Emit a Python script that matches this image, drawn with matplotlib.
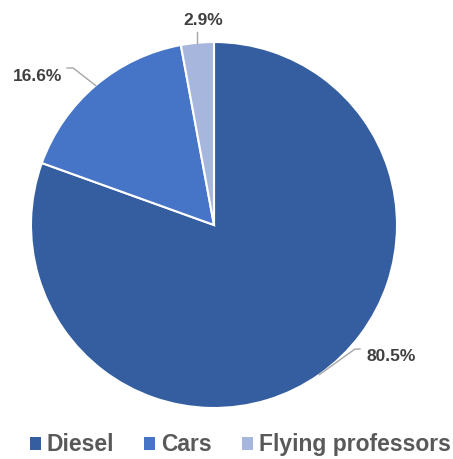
import numpy as np
import matplotlib
matplotlib.use("Agg")
import matplotlib.pyplot as plt
from matplotlib.patches import Patch

plt.rcParams['font.family'] = ['Liberation Sans', 'DejaVu Sans']

categories = ['Diesel', 'Cars', 'Flying professors']
shares = [80.5, 16.6, 2.9]
colors = ['#345ea0', '#4674c6', '#a7b6dc']

# label placement: (elbow x, elbow y, line end x, text x, text y, ha)
label_layout = [
    (0.770, -0.678, 0.798, 0.831, -0.721, 'left'),
    (-0.770, 0.858, -0.803, -0.831, 0.814, 'right'),
    (None, 1.055, None, -0.057, 1.115, 'center'),
]

fig = plt.figure(figsize=(4.53, 4.59), dpi=100)
cx, cy, r = 214, 225, 183
W, H = 453, 459
ax = fig.add_axes([(cx - r) / W, (H - cy - r) / H, 2 * r / W, 2 * r / H])

wedges, _ = ax.pie(shares, colors=colors, startangle=90, counterclock=False,
                   radius=1, wedgeprops=dict(edgecolor='white', linewidth=1.5))
ax.set_xlim(-1, 1)
ax.set_ylim(-1, 1)
ax.set_aspect('auto')
ax.axis('off')

for w, val, lay in zip(wedges, shares, label_layout):
    mid = np.deg2rad((w.theta1 + w.theta2) / 2)
    x0, y0 = np.cos(mid), np.sin(mid)
    ex, ey, lx, tx, ty, ha = lay
    if ex is None:
        xs, ys = [x0, x0], [y0, ey]
    else:
        xs, ys = [x0, ex, lx], [y0, ey, ey]
    ax.plot(xs, ys, color='#a6a6a6', lw=1, clip_on=False)
    ax.text(tx, ty, f'{val:.1f}%', ha=ha, va='center', fontsize=12.5,
            fontweight='bold', color='#404040')

handles = [Patch(facecolor=c, edgecolor='none') for c in colors]
fig.legend(handles, categories, loc='center', bbox_to_anchor=(0.53, 0.031),
           ncol=3, frameon=False, handlelength=0.5, handleheight=0.5,
           handletextpad=0.25, columnspacing=1.3,
           prop=dict(size=16.5, weight='bold'), labelcolor='#595959')

fig.savefig('out.png', dpi=100)
